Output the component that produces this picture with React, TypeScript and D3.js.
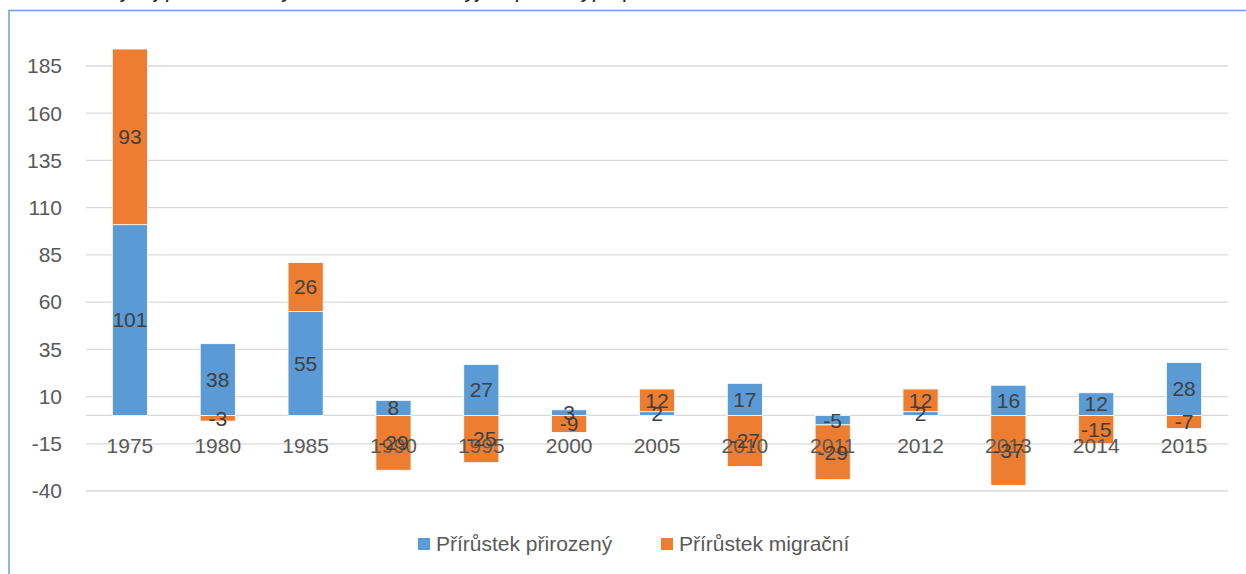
import { useEffect, useRef } from 'react';
import * as d3 from 'd3';

const years = ['1975', '1980', '1985', '1990', '1995', '2000', '2005', '2010', '2011', '2012', '2013', '2014', '2015'];
const natural = [101, 38, 55, 8, 27, 3, 2, 17, -5, 2, 16, 12, 28];
const migration = [93, -3, 26, -29, -25, -9, 12, -27, -29, 12, -37, -15, -7];
const yTicks = [-40, -15, 10, 35, 60, 85, 110, 135, 160, 185];
const seriesNames = ['Přírůstek přirozený', 'Přírůstek migrační'];
const colors = ['#5B9BD5', '#ED7D31'];

const W = 1246;
const H = 574;
const FONT = '"Liberation Sans", Arial, sans-serif';

export default function App() {
  const ref = useRef<SVGSVGElement>(null);

  useEffect(() => {
    const svg = d3.select(ref.current);
    svg.selectAll('*').remove();

    const rows = years.map((y, i) => ({ year: y, nat: natural[i], mig: migration[i] }));

    const x = d3.scaleBand().domain(years).range([86, 1228]).paddingInner(0.6).paddingOuter(0.3);
    const y = d3.scaleLinear().domain([-40, 185]).range([491, 66]);

    // frame + caption cut off by the page top
    svg.append('text')
      .attr('x', 10).attr('y', -3)
      .attr('font-family', FONT).attr('font-style', 'italic').attr('font-size', 22)
      .attr('fill', '#222')
      .text('Graf č. 3: Vývoj přírůstku obyvatelstva v obci Ryjice podle typu přírůstku 1975–2015');
    svg.append('path')
      .attr('d', `M9,${H + 5} V10.5 H${W + 5}`)
      .attr('fill', 'none').attr('stroke', '#6A9FD8').attr('stroke-width', 1.5);

    // gridlines
    svg.append('g').selectAll('line').data(yTicks).join('line')
      .attr('x1', 86).attr('x2', 1228)
      .attr('y1', d => y(d)).attr('y2', d => y(d))
      .attr('stroke', '#D9D9D9').attr('stroke-width', 1.3);

    svg.append('g').selectAll('text').data(yTicks).join('text')
      .attr('x', 62).attr('y', d => y(d))
      .attr('dy', '0.35em').attr('text-anchor', 'end')
      .attr('font-family', FONT).attr('font-size', 21).attr('fill', '#595959')
      .text(d => d);

    // zero axis line
    svg.append('line')
      .attr('x1', 86).attr('x2', 1228)
      .attr('y1', y(0)).attr('y2', y(0))
      .attr('stroke', '#D9D9D9').attr('stroke-width', 1.3);

    const stack = d3.stack<any>().keys(['nat', 'mig']).offset(d3.stackOffsetDiverging);
    const layers = stack(rows);

    const g = svg.append('g');
    layers.forEach((layer, li) => {
      g.append('g').selectAll('rect').data(layer).join('rect')
        .attr('x', d => x(d.data.year)!)
        .attr('width', x.bandwidth())
        .attr('y', d => y(Math.max(d[0], d[1])))
        .attr('height', d => Math.abs(y(d[0]) - y(d[1])))
        .attr('fill', colors[li])
        .attr('stroke', '#fff').attr('stroke-width', 0.8);
    });

    // category labels
    svg.append('g').selectAll('text').data(years).join('text')
      .attr('x', d => x(d)! + x.bandwidth() / 2)
      .attr('y', 446).attr('dy', '0.35em')
      .attr('text-anchor', 'middle')
      .attr('font-family', FONT).attr('font-size', 21).attr('fill', '#595959')
      .text(d => d);

    // data labels
    layers.forEach(layer => {
      svg.append('g').selectAll('text').data(layer).join('text')
        .attr('x', d => x(d.data.year)! + x.bandwidth() / 2)
        .attr('y', d => y((d[0] + d[1]) / 2)).attr('dy', '0.35em')
        .attr('text-anchor', 'middle')
        .attr('font-family', FONT).attr('font-size', 21).attr('fill', '#404040')
        .text(d => d.data[layer.key]);
    });

    // legend
    const leg = svg.append('g');
    const legX = [418, 661];
    seriesNames.forEach((name, i) => {
      leg.append('rect')
        .attr('x', legX[i]).attr('y', 538).attr('width', 12).attr('height', 12)
        .attr('fill', colors[i]);
      leg.append('text')
        .attr('x', legX[i] + 18).attr('y', 544).attr('dy', '0.35em')
        .attr('font-family', FONT).attr('font-size', 21).attr('fill', '#595959')
        .text(name);
    });
  }, []);

  return (
    <div style={{ position: 'fixed', left: 0, top: 0, width: W, height: H, background: '#fff' }}>
      <svg ref={ref} width={W} height={H} style={{ display: 'block', overflow: 'hidden' }} />
    </div>
  );
}
